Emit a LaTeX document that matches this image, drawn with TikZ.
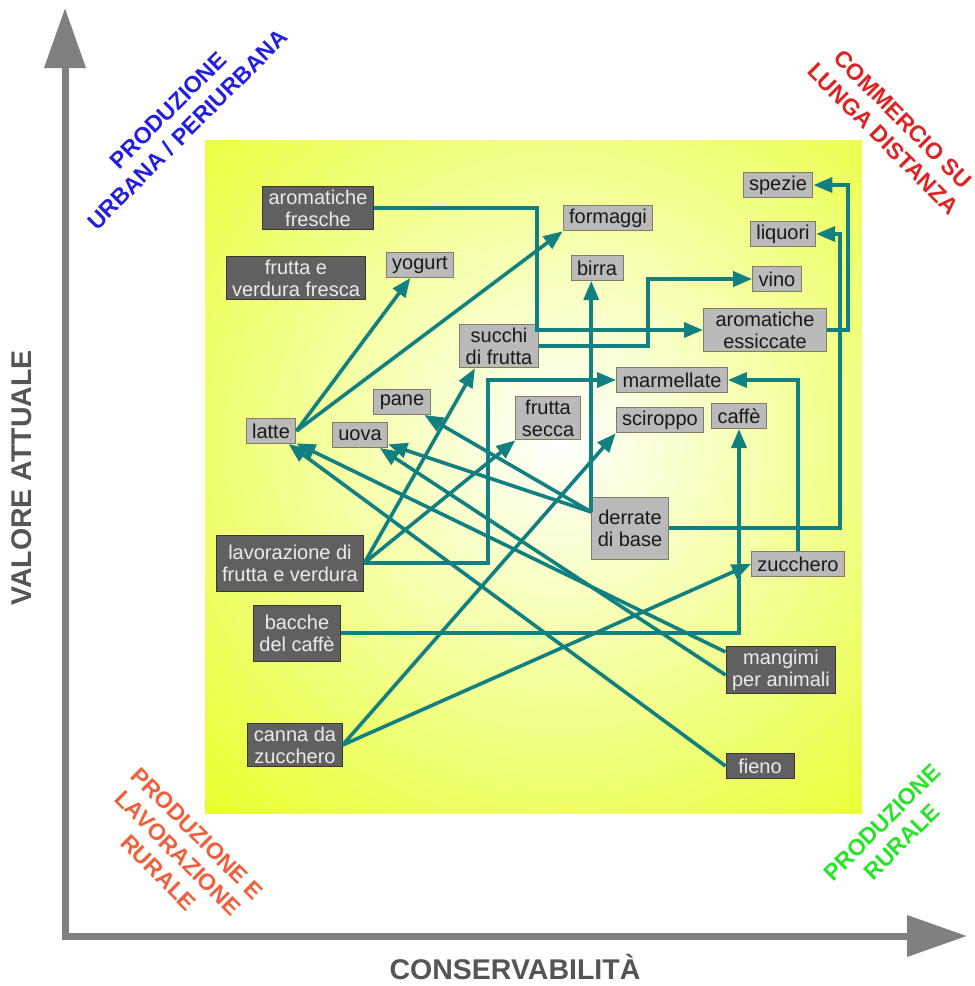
\documentclass[tikz,border=0pt]{standalone}
\usepackage{fontspec}
\setmainfont{Liberation Sans}
\usetikzlibrary{arrows.meta}

\definecolor{giallo}{RGB}{226,255,0}
\definecolor{verdeacqua}{RGB}{18,128,128}
\definecolor{grigioscuro}{RGB}{96,96,96}
\definecolor{bordoscuro}{RGB}{55,55,45}
\definecolor{grigiochiaro}{RGB}{186,186,186}
\definecolor{bordochiaro}{RGB}{125,125,105}
\definecolor{grigioasse}{RGB}{128,128,128}
\definecolor{testoasse}{RGB}{85,85,85}
\definecolor{bluurb}{RGB}{35,30,225}
\definecolor{rossocomm}{RGB}{222,35,35}
\definecolor{arancio}{RGB}{240,96,60}
\definecolor{verderur}{RGB}{40,228,40}

\begin{document}
\begin{tikzpicture}[x=1pt, y=-1pt,
	prodotto/.style={rectangle, font=\fontsize{20}{22}\selectfont, align=center, inner xsep=6pt, inner ysep=3.5pt, minimum height=25pt, line width=1pt},
	scuro/.style={prodotto, draw=bordoscuro, fill=grigioscuro, text=white!92!black},
	chiaro/.style={prodotto, draw=bordochiaro, fill=grigiochiaro, text=black!90},
	freccia/.style={draw=verdeacqua, line width=3.6pt, -{Triangle[length=19pt, width=15pt]}},
	asse/.style={draw=grigioasse, line width=7pt, -{Triangle[length=60pt, width=40pt]}},
	etichettaasse/.style={font=\fontsize{28.5}{30}\selectfont\bfseries, text=testoasse, inner sep=0pt},
	angolo/.style={font=\fontsize{23}{27.5}\selectfont\bfseries, align=center, inner sep=0pt}]

	\useasboundingbox ( 0, 0 ) rectangle ( 975, 986 );
	\fill [white] ( 0, 0 ) rectangle ( 975, 986 );

	% riquadro sfumato
	\begin{scope}
		\clip ( 205, 140 ) rectangle ( 862, 813 );
		\shade [inner color=white, outer color=giallo] ( 560, 440 ) circle ( 620 );
	\end{scope}

	% assi
	\draw [asse] ( 65, 939.5 ) -- ( 65, 8 );
	\draw [asse] ( 61.5, 936 ) -- ( 967, 936 );
	\node [etichettaasse, rotate=90] (valore) at ( 22, 478 ) {VALORE ATTUALE};
	\node [etichettaasse] (conservabilita) at ( 515, 967 ) {CONSERVABILITÀ};

	% angoli
	\node [angolo, text=bluurb, rotate=45] (urbana) at ( 178, 120 ) {PRODUZIONE\\URBANA / PERIURBANA};
	\node [angolo, text=rossocomm, rotate=-45] (commercio) at ( 893, 129 ) {COMMERCIO SU\\LUNGA DISTANZA};
	\node [angolo, text=arancio, rotate=-45] (lavrurale) at ( 178, 853 ) {PRODUZIONE E\\LAVORAZIONE\\RURALE};
	\node [angolo, text=verderur, rotate=45] (rurale) at ( 892, 832 ) {PRODUZIONE\\RURALE};

	% prodotti
	\node [scuro] (arfresche) at ( 318, 208 ) {aromatiche\\fresche};
	\node [scuro] (fverdura) at ( 296, 278 ) {frutta e\\verdura fresca};
	\node [chiaro] (yogurt) at ( 420, 265 ) {yogurt};
	\node [chiaro] (formaggi) at ( 608, 218 ) {formaggi};
	\node [chiaro] (birra) at ( 597, 268 ) {birra};
	\node [chiaro] (spezie) at ( 778, 185 ) {spezie};
	\node [chiaro] (liquori) at ( 783, 234 ) {liquori};
	\node [chiaro] (vino) at ( 777, 279 ) {vino};
	\node [chiaro, minimum width=123pt] (aressiccate) at ( 765, 330 ) {aromatiche\\essiccate};
	\node [chiaro] (succhi) at ( 499, 346 ) {succhi\\di frutta};
	\node [chiaro] (marmellate) at ( 672, 380 ) {marmellate};
	\node [chiaro] (pane) at ( 402, 402 ) {pane};
	\node [chiaro] (fsecca) at ( 548, 418 ) {frutta\\secca};
	\node [chiaro] (sciroppo) at ( 660, 420 ) {sciroppo};
	\node [chiaro] (caffe) at ( 739, 416 ) {caffè};
	\node [chiaro] (latte) at ( 271, 431 ) {latte};
	\node [chiaro] (uova) at ( 360, 435 ) {uova};
	\node [chiaro, minimum height=62pt] (derrate) at ( 630, 528 ) {derrate\\di base};
	\node [chiaro] (zucchero) at ( 798, 564 ) {zucchero};
	\node [scuro, minimum height=56pt] (lavorazione) at ( 290, 563 ) {lavorazione di\\frutta e verdura};
	\node [scuro, minimum height=56pt] (bacche) at ( 297, 633 ) {bacche\\del caffè};
	\node [scuro] (canna) at ( 295, 745 ) {canna da\\zucchero};
	\node [scuro] (mangimi) at ( 781, 670 ) {mangimi\\per animali};
	\node [scuro, minimum width=68pt] (fieno) at ( 760, 766 ) {fieno};

	% collegamenti
	\coordinate (nododerrate) at ([yshift=16pt]derrate.west);
	\draw [freccia] (arfresche) -| ( 537, 330 ) -- (aressiccate);
	\draw [freccia] (succhi) -| ( 648, 279 ) -- (vino);
	\draw [freccia] (lavorazione) -| ( 488, 380 ) -- (marmellate);
	\draw [freccia] (zucchero) |- (marmellate);
	\draw [freccia] (bacche) -| (caffe);
	\draw [freccia] (derrate) -| ( 840, 234 ) -- (liquori);
	\draw [freccia] (aressiccate) -| ( 848, 185 ) -- (spezie);
	\draw [freccia] (nododerrate) -- (nododerrate |- birra.south);
	\draw [freccia] (nododerrate) -- (pane);
	\draw [freccia] (nododerrate) -- (uova);
	\draw [freccia] (latte.east) -- (yogurt);
	\draw [freccia] (latte.east) -- (formaggi.south west);
	\draw [freccia] (lavorazione.east) -- ([xshift=-24pt]succhi.south);
	\draw [freccia] (lavorazione.east) -- (fsecca.south west);
	\draw [freccia] (canna.east) -- (sciroppo.south west);
	\draw [freccia] (canna.east) -- (zucchero.west);
	\draw [freccia] ([yshift=18pt]mangimi.west) -- (latte);
	\draw [freccia] ([yshift=-5pt]mangimi.west) -- (uova);
	\draw [freccia] (fieno.west) -- (latte);
\end{tikzpicture}
\end{document}
